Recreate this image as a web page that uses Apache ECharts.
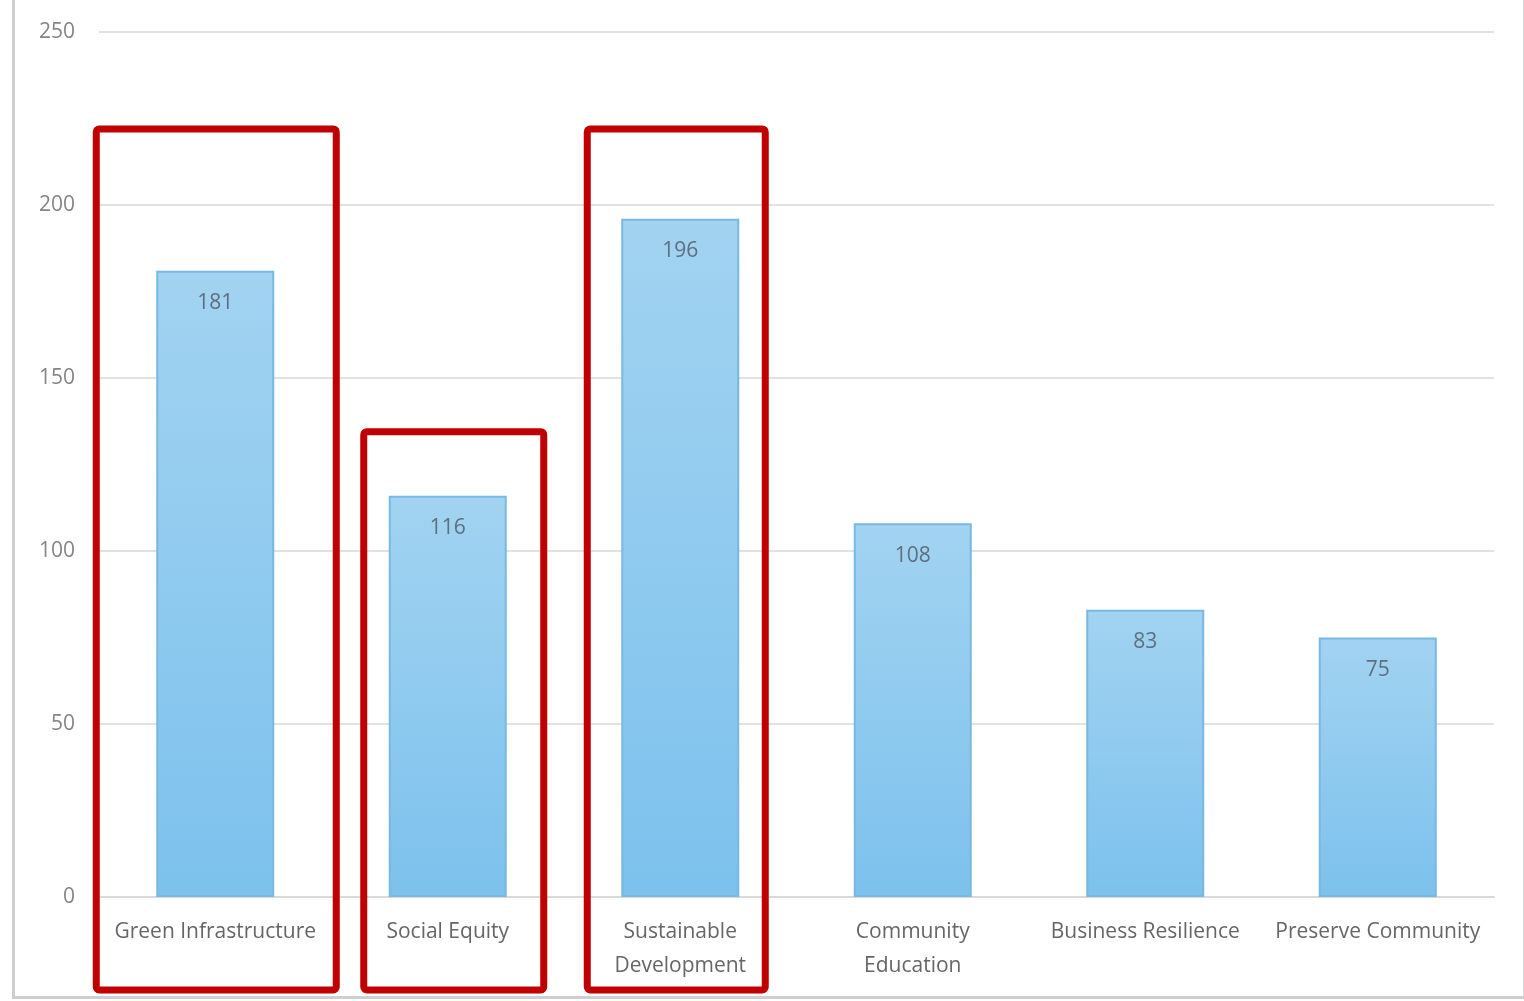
<!DOCTYPE html>
<html>
<head>
<meta charset="utf-8">
<script src="https://cdn.jsdelivr.net/npm/echarts@6/dist/echarts.min.js"></script>
<style>
  html, body { margin: 0; padding: 0; background: #fff; }
  #frame { position: absolute; left: 12px; top: -4px; width: 1508px; height: 1000px;
           border-left: 3px solid #cfcfcf; border-right: 3px solid #d6d6d6; border-bottom: 3px solid #cfcfcf; }
  #chart { position: absolute; left: 0; top: 0; width: 1524px; height: 1001px; }
</style>
</head>
<body>
<div id="frame"></div>
<div id="chart"></div>
<script>
const categories = ['Green Infrastructure', 'Social Equity', 'Sustainable\nDevelopment', 'Community\nEducation', 'Business Resilience', 'Preserve Community'];
const values = [181, 116, 196, 108, 83, 75];
const yTicks = [0, 50, 100, 150, 200, 250];
// highlighted categories (red annotation boxes) and the value where each box's top sits
const highlightIndex = [0, 1, 2];
const highlightTop = [222, 134.5, 222];
const highlightHalfWidth = [120, 90, 89];
const highlightShift = [1, 6, -4];

const chart = echarts.init(document.getElementById('chart'));
const option = {
  animation: false,
  grid: { left: 99, right: 30, top: 32, bottom: 104, containLabel: false },
  xAxis: {
    type: 'category',
    data: categories,
    axisLine: { show: true, lineStyle: { color: '#d9d9d9', width: 2 } },
    axisTick: { show: false },
    axisLabel: { color: '#666666', fontSize: 21, fontFamily: 'Open Sans', margin: 18, lineHeight: 34, interval: 0 }
  },
  yAxis: {
    type: 'value',
    min: yTicks[0], max: yTicks[yTicks.length - 1], interval: 50,
    axisLine: { show: false },
    axisTick: { show: false },
    axisLabel: { color: '#858585', fontSize: 21, fontFamily: 'Open Sans', margin: 24 },
    splitLine: { lineStyle: { color: '#e2e2e2', width: 2 } }
  },
  series: [{
    type: 'bar',
    data: values,
    barWidth: 118,
    itemStyle: {
      color: new echarts.graphic.LinearGradient(0, 0, 0, 1, [
        { offset: 0, color: '#a2d3f1' },
        { offset: 1, color: '#7cc1ed' }
      ]),
      borderColor: '#78b8e2',
      borderWidth: 2
    },
    label: {
      show: true, position: 'insideTop', distance: 22,
      color: '#5f6f80', fontSize: 21, fontFamily: 'Open Sans'
    }
  }]
};
chart.setOption(option);

const boxes = highlightIndex.map((ci, k) => {
  const top = chart.convertToPixel({ gridIndex: 0 }, [ci, highlightTop[k]]);
  const cx = top[0] + highlightShift[k];
  const bottomY = 990;
  return {
    type: 'rect',
    shape: { x: cx - highlightHalfWidth[k], y: top[1], width: highlightHalfWidth[k] * 2, height: bottomY - top[1], r: 3 },
    style: { fill: 'none', stroke: '#c00000', lineWidth: 7 },
    z: 100
  };
});
chart.setOption({ graphic: boxes });
</script>
</body>
</html>
